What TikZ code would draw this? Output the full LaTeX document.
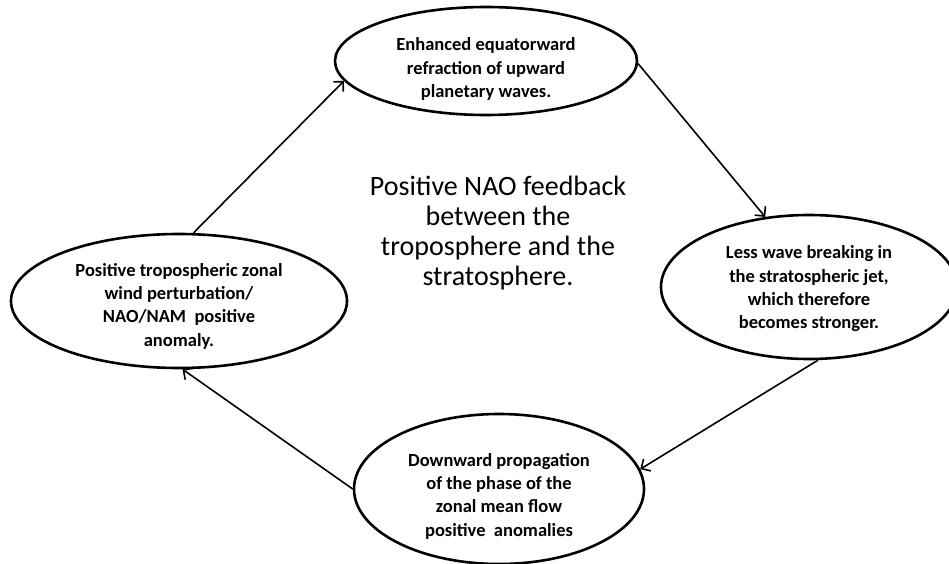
\documentclass[tikz,border=0pt]{standalone}
\usepackage{fontspec}
\setmainfont{Carlito}
\usetikzlibrary{shapes.geometric,arrows.meta}
\tikzset{
  oval/.style={ellipse, draw=black, line width=2.6pt, inner sep=0pt},
  ovaltext/.style={align=center, inner sep=0pt, font=\fontsize{18.5}{23.3}\selectfont\bfseries},
  flow/.style={line width=1.6pt, -{Straight Barb[length=7pt,width=14pt,line width=1.6pt]}}
}
\begin{document}
\begin{tikzpicture}[x=1pt,y=-1pt]
\useasboundingbox (0,0) rectangle (949,564);
\node[oval, minimum width=302pt, minimum height=108pt] (T) at (486,61) {};
\node[ovaltext] (Tt) at ([yshift=-8pt]T.center)
  {Enhanced equatorward\\refraction of upward\\planetary waves.};
\node[oval, minimum width=296pt, minimum height=144pt] (R) at (809,287) {};
\node[ovaltext] (Rt) at ([yshift=-2pt]R.center)
  {Less wave breaking in\\the stratospheric jet,\\which therefore\\becomes stronger.};
\node[oval, minimum width=290pt, minimum height=150pt] (B) at (499,489) {};
\node[ovaltext] (Bt) at ([yshift=-7pt]B.center)
  {Downward propagation\\of the phase of the\\zonal mean flow\\positive\ \ anomalies};
\node[oval, minimum width=336pt, minimum height=134pt] (L) at (179,301) {};
\node[ovaltext] (Lt) at ([yshift=-5pt]L.center)
  {Positive tropospheric zonal\\wind perturbation/\\NAO/NAM\ \ positive\\anomaly.};
\node[align=center, font=\fontsize{28}{30}\selectfont] (C) at (498,233)
  {Positive NAO feedback\\between the\\troposphere and the\\stratosphere.};
\draw[flow] (L.78) -- (T.188.5);
\draw[flow] (T.-1) -- (R.122);
\draw[flow] (R.277) -- (B.8.6);
\draw[flow] (B.180) -- (L.273.4);
\end{tikzpicture}
\end{document}
